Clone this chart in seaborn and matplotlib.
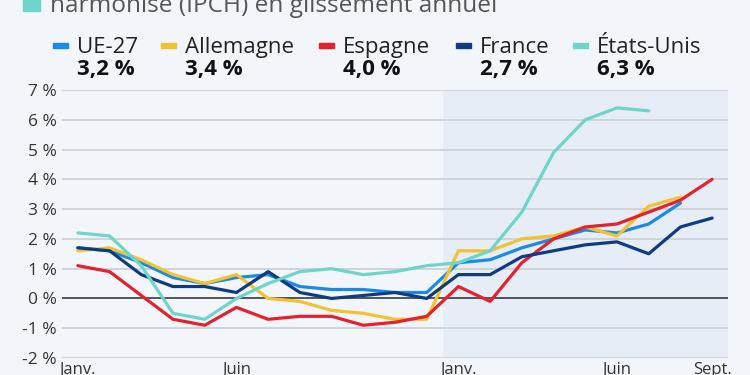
import numpy as np
import pandas as pd
import matplotlib
matplotlib.use("Agg")
import matplotlib.pyplot as plt
import seaborn as sns
from matplotlib.patches import Rectangle

# ---- data ----
month_labels = ["Janv.", "Juin", "Janv.", "Juin", "Sept."]
month_label_pos = [0, 5, 12, 17, 20]
series_names = ["UE-27", "Allemagne", "Espagne", "France", "États-Unis"]
latest_labels = ["3,2 %", "3,4 %", "4,0 %", "2,7 %", "6,3 %"]
colors = ["#1a8ae6", "#f2c230", "#e3212f", "#0e3b82", "#6fd4c9"]

ue27 = [1.7, 1.6, 1.2, 0.7, 0.5, 0.7, 0.8, 0.4, 0.3, 0.3, 0.2, 0.2,
        1.2, 1.3, 1.7, 2.0, 2.3, 2.2, 2.5, 3.2]
allemagne = [1.6, 1.7, 1.3, 0.8, 0.5, 0.8, 0.0, -0.1, -0.4, -0.5, -0.7, -0.7,
             1.6, 1.6, 2.0, 2.1, 2.4, 2.1, 3.1, 3.4]
espagne = [1.1, 0.9, 0.1, -0.7, -0.9, -0.3, -0.7, -0.6, -0.6, -0.9, -0.8, -0.6,
           0.4, -0.1, 1.2, 2.0, 2.4, 2.5, 2.9, 3.3, 4.0]
france = [1.7, 1.6, 0.8, 0.4, 0.4, 0.2, 0.9, 0.2, 0.0, 0.1, 0.2, 0.0,
          0.8, 0.8, 1.4, 1.6, 1.8, 1.9, 1.5, 2.4, 2.7]
etats_unis = [2.2, 2.1, 1.1, -0.5, -0.7, 0.0, 0.5, 0.9, 1.0, 0.8, 0.9, 1.1,
              1.2, 1.6, 2.9, 4.9, 6.0, 6.4, 6.3]

values = [ue27, allemagne, espagne, france, etats_unis]
rows = []
for name, vals in zip(series_names, values):
    for i, v in enumerate(vals):
        rows.append({"mois": i, "taux": v, "pays": name})
df = pd.DataFrame(rows)

# ---- style ----
sns.set_theme(style="white")
plt.rcParams["font.family"] = ["Open Sans", "DejaVu Sans"]
BG = "#f2f6fa"

fig = plt.figure(figsize=(7.5, 3.75), dpi=100, facecolor=BG)
ax = fig.add_axes([62 / 750, 17 / 375, 666 / 750, 268 / 375])
ax.set_facecolor(BG)

ax.set_xlim(-0.5, 20.5)
ax.set_ylim(-2, 7)

# shaded 2021 region
ax.axvspan(11.5, 20.5, color="#e6edf6", zorder=0, lw=0)

# gridlines
for y in range(-2, 8):
    if y == 0:
        continue
    ax.axhline(y, color="#cdd2d8", lw=1.3, zorder=1)
ax.axhline(0, color="#3a3a3a", lw=1.2, zorder=2)

sns.lineplot(data=df, x="mois", y="taux", hue="pays", hue_order=series_names,
             palette=colors, lw=2.3, ax=ax, legend=False, zorder=3)

for s in ax.spines.values():
    s.set_visible(False)

ax.set_xlabel("")
ax.set_ylabel("")
ax.set_yticks(range(-2, 8))
ax.set_yticklabels([f"{y} %" for y in range(-2, 8)], fontsize=12.5, color="#333333")
ax.set_xticks(month_label_pos)
ax.set_xticklabels(month_labels, fontsize=12, color="#333333")
ax.tick_params(axis="both", length=0, pad=4)
ax.tick_params(axis="x", pad=3)

# title fragment (cut at top)
fig.patches.append(Rectangle((23 / 750, 1 - 11 / 375), 17 / 750, 14 / 375,
                             transform=fig.transFigure, color="#6fd4c9"))
fig.text(50 / 750, 1 - 12 / 375, "harmonisé (IPCH) en glissement annuel",
         fontsize=17.6, color="#555555", va="baseline", ha="left")

# legend
name_x = [77, 185, 343, 480, 597]
for nx, name, val, col in zip(name_x, series_names, latest_labels, colors):
    fig.patches.append(Rectangle(((nx - 24) / 750, 1 - 47.5 / 375), 15 / 750, 4.5 / 375,
                                 transform=fig.transFigure, color=col))
    fig.text(nx / 750, 1 - 53 / 375, name, fontsize=16, color="#222222",
             va="baseline", ha="left")
    fig.text(nx / 750, 1 - 75 / 375, val, fontsize=16, color="#111111",
             fontweight="bold", va="baseline", ha="left")

fig.savefig("out.png", dpi=100, facecolor=BG)
